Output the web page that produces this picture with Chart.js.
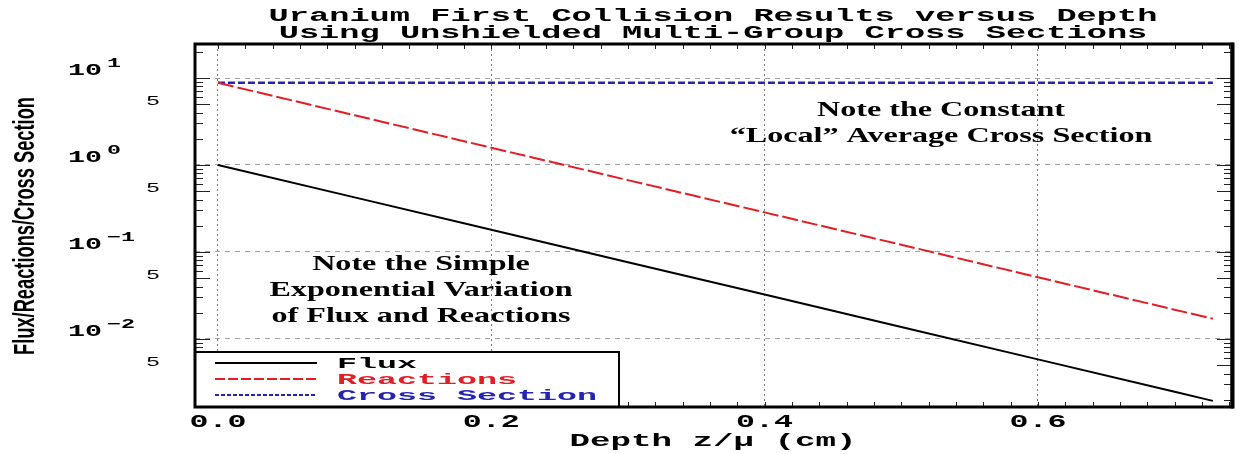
<!DOCTYPE html>
<html>
<head>
<meta charset="utf-8">
<script src="https://cdn.jsdelivr.net/npm/chart.js@4.4.1/dist/chart.umd.min.js"></script>
<style>
html,body{margin:0;padding:0;background:#fff;}
canvas{display:block;}
</style>
</head>
<body>
<canvas id="c" width="1239" height="454" style="width:1239px;height:454px"></canvas>
<script>
// ---- data ----
const depth        = [0, 0.1, 0.2, 0.3, 0.4, 0.5, 0.6, 0.7, 0.728];
const flux         = [1.0, 0.424, 0.180, 0.0763, 0.0324, 0.0137, 0.00582, 0.00247, 0.00194];
const reactions    = [8.8, 3.73, 1.58, 0.67, 0.285, 0.121, 0.0512, 0.0217, 0.0171];
const crossSection = [8.8, 8.8, 8.8, 8.8, 8.8, 8.8, 8.8, 8.8, 8.8];

const seriesNames = ['Flux', 'Reactions', 'Cross Section'];
const xTickValues = [0, 0.2, 0.4, 0.6];
const xTickLabels = ['0.0', '0.2', '0.4', '0.6'];
const yDecadeValues = [10, 1, 0.1, 0.01];
const yDecadeExps = ['1', '0', '\u22121', '\u22122'];
const yFiveValues = [5, 0.5, 0.05, 0.005];
const yFiveLabels = ['5', '5', '5', '5'];

const titleLines = ['Uranium First Collision Results versus Depth',
                    'Using Unshielded Multi-Group Cross Sections'];
const xTitle = 'Depth z/\u03bc (cm)';
const yTitle = 'Flux/Reactions/Cross Section';
const noteTop = ['Note the Constant', '\u201cLocal\u201d Average Cross Section'];
const noteBottom = ['Note the Simple', 'Exponential Variation', 'of Flux and Reactions'];

const RED = 'rgb(228,28,36)';
const BLUE = 'rgb(36,36,180)';
const MONO = '"Liberation Mono","DejaVu Sans Mono",monospace';

function pts(ys){ return depth.map((x,i)=>({x:x, y:ys[i]})); }

function monoText(ctx, s, x, y, size, pitch, weight, color, align){
  ctx.save();
  ctx.font = weight + ' ' + size + 'px ' + MONO;
  ctx.fillStyle = color; ctx.textAlign = 'left'; ctx.textBaseline = 'alphabetic';
  const sx = pitch / ctx.measureText('M').width;
  const w = ctx.measureText(s).width * sx;
  const x0 = align === 'center' ? x - w/2 : (align === 'right' ? x - w : x);
  ctx.translate(x0, y); ctx.scale(sx, 1); ctx.fillText(s, 0, 0);
  ctx.restore();
}
function stretchText(ctx, s, x, y, font, sx, color, align){
  ctx.save();
  ctx.font = font; ctx.fillStyle = color; ctx.textAlign = 'left'; ctx.textBaseline = 'alphabetic';
  const w = ctx.measureText(s).width * sx;
  const x0 = align === 'center' ? x - w/2 : (align === 'right' ? x - w : x);
  ctx.translate(x0, y); ctx.scale(sx, 1); ctx.fillText(s, 0, 0);
  ctx.restore();
}

const bgPlugin = {
  id: 'bg',
  beforeDraw(chart){
    const ctx = chart.ctx;
    ctx.save(); ctx.fillStyle = '#fff'; ctx.fillRect(0,0,chart.width,chart.height); ctx.restore();
  }
};

const decoPlugin = {
  id: 'deco',
  afterDraw(chart){
    const ctx = chart.ctx;
    const a = chart.chartArea;
    const xs = chart.scales.x, ys = chart.scales.y;

    // minor ticks (inward) on all four sides
    ctx.save();
    ctx.strokeStyle = '#222'; ctx.lineWidth = 1;
    ctx.beginPath();
    for (let i = 0; i <= 37; i++){
      const px = Math.round(xs.getPixelForValue(i*0.02)) + 0.5;
      if (px < a.left || px > a.right) continue;
      ctx.moveTo(px, a.top); ctx.lineTo(px, a.top + 5);
      ctx.moveTo(px, a.bottom); ctx.lineTo(px, a.bottom - 5);
    }
    for (let d = -3; d <= 1; d++){
      for (let k = 1; k <= 9; k++){
        const v = k * Math.pow(10, d);
        if (v < ys.min || v > ys.max) continue;
        const py = Math.round(ys.getPixelForValue(v)) + 0.5;
        const len = (k === 5 || k === 1) ? 15 : 8;
        ctx.moveTo(a.left, py); ctx.lineTo(a.left + len, py);
        ctx.moveTo(a.right, py); ctx.lineTo(a.right - len, py);
      }
    }
    ctx.stroke();
    ctx.restore();

    // legend box inside the plot, lower left
    const ds = chart.data.datasets;
    ctx.save();
    ctx.fillStyle = '#fff';
    ctx.fillRect(a.left, 352, 424, a.bottom - 352);
    ctx.strokeStyle = '#000'; ctx.lineWidth = 2;
    ctx.strokeRect(a.left, 352, 424, a.bottom - 352);
    const legendDash = [[], [10, 3], [4, 2]];
    const legendText = ['#000', RED, BLUE];
    ds.forEach((d, i) => {
      const y = 363 + i*16;
      ctx.save();
      ctx.strokeStyle = d.borderColor; ctx.lineWidth = 2;
      ctx.setLineDash(legendDash[i]);
      ctx.beginPath(); ctx.moveTo(215, y); ctx.lineTo(317, y); ctx.stroke();
      ctx.restore();
      monoText(ctx, d.label, 337, y + 5, 15, 20, 'bold', legendText[i], 'left');
    });
    ctx.restore();

    // frame
    ctx.save();
    ctx.strokeStyle = '#000'; ctx.lineWidth = 3;
    ctx.strokeRect(a.left, a.top, a.right - a.left, a.bottom - a.top);
    ctx.lineWidth = 4;
    ctx.beginPath(); ctx.moveTo(a.right + 0.5, a.top - 1.5); ctx.lineTo(a.right + 0.5, a.bottom + 1.5); ctx.stroke();
    ctx.restore();

    // x tick labels
    xTickValues.forEach((v, i) => {
      monoText(ctx, xTickLabels[i], xs.getPixelForValue(v), 427, 18, 19, 'bold', '#000', 'center');
    });
    // y tick labels
    yDecadeValues.forEach((v, i) => {
      const py = ys.getPixelForValue(v);
      monoText(ctx, '10', 102, py - 3, 16, 17, 'bold', '#000', 'right');
      monoText(ctx, yDecadeExps[i], 107, py - 11, 13, 14, 'bold', '#000', 'left');
    });
    yFiveValues.forEach((v, i) => {
      const py = ys.getPixelForValue(v);
      monoText(ctx, yFiveLabels[i], 153, py + 1, 12, 14, 'normal', '#000', 'center');
    });

    // titles
    monoText(ctx, titleLines[0], 713, 21, 18, 20.2, 'bold', '#000', 'center');
    monoText(ctx, titleLines[1], 713, 38, 18, 20.2, 'bold', '#000', 'center');
    monoText(ctx, xTitle, 713, 446, 18, 20.5, 'bold', '#000', 'center');

    // y axis title (rotated, condensed)
    ctx.save();
    ctx.font = 'bold 30px "Liberation Sans Narrow","Liberation Sans",Arial,sans-serif';
    const w = ctx.measureText(yTitle).width;
    const sx = 258 / w;
    ctx.translate(34, 226);
    ctx.rotate(-Math.PI/2);
    ctx.scale(sx, 1);
    ctx.fillStyle = '#000'; ctx.textAlign = 'center'; ctx.textBaseline = 'alphabetic';
    ctx.fillText(yTitle, 0, 0);
    ctx.restore();

    // annotations
    const serif = 'bold 21px "Liberation Serif","Times New Roman",serif';
    noteTop.forEach((s, i) => stretchText(ctx, s, 941, 116 + i*26, serif, 1.53, '#000', 'center'));
    noteBottom.forEach((s, i) => stretchText(ctx, s, 421, 270 + i*26, serif, 1.53, '#000', 'center'));
  }
};

new Chart(document.getElementById('c'), {
  type: 'line',
  data: {
    datasets: [
      { label: seriesNames[0], data: pts(flux), borderColor: '#000', borderWidth: 2, pointRadius: 0, tension: 0, fill: false },
      { label: seriesNames[1], data: pts(reactions), borderColor: RED, borderWidth: 2, borderDash: [16, 4], pointRadius: 0, tension: 0, fill: false },
      { label: seriesNames[2], data: pts(crossSection), borderColor: BLUE, borderWidth: 2.5, borderDash: [7, 3], pointRadius: 0, tension: 0, fill: false }
    ]
  },
  options: {
    responsive: false,
    devicePixelRatio: 1,
    animation: false,
    layout: { padding: { left: 195, top: 44, right: 7, bottom: 47 } },
    plugins: { legend: { display: false }, tooltip: { enabled: false }, title: { display: false } },
    scales: {
      x: {
        type: 'linear', min: -0.0168, max: 0.742,
        afterBuildTicks: s => { s.ticks = xTickValues.map(v => ({ value: v })); },
        afterFit: s => { s.height = 0; },
        ticks: { display: false },
        grid: { color: 'rgba(110,110,110,0.9)', lineWidth: 1, drawTicks: false },
        border: { display: false, dash: [2, 3] }
      },
      y: {
        type: 'logarithmic', min: 0.00165, max: 24.6,
        afterBuildTicks: s => { s.ticks = yDecadeValues.map(v => ({ value: v })); },
        afterFit: s => { s.width = 0; },
        ticks: { display: false },
        grid: { color: 'rgba(150,150,150,0.9)', lineWidth: 1, drawTicks: false },
        border: { display: false, dash: [5, 5] }
      }
    }
  },
  plugins: [bgPlugin, decoPlugin]
});
</script>
</body>
</html>
